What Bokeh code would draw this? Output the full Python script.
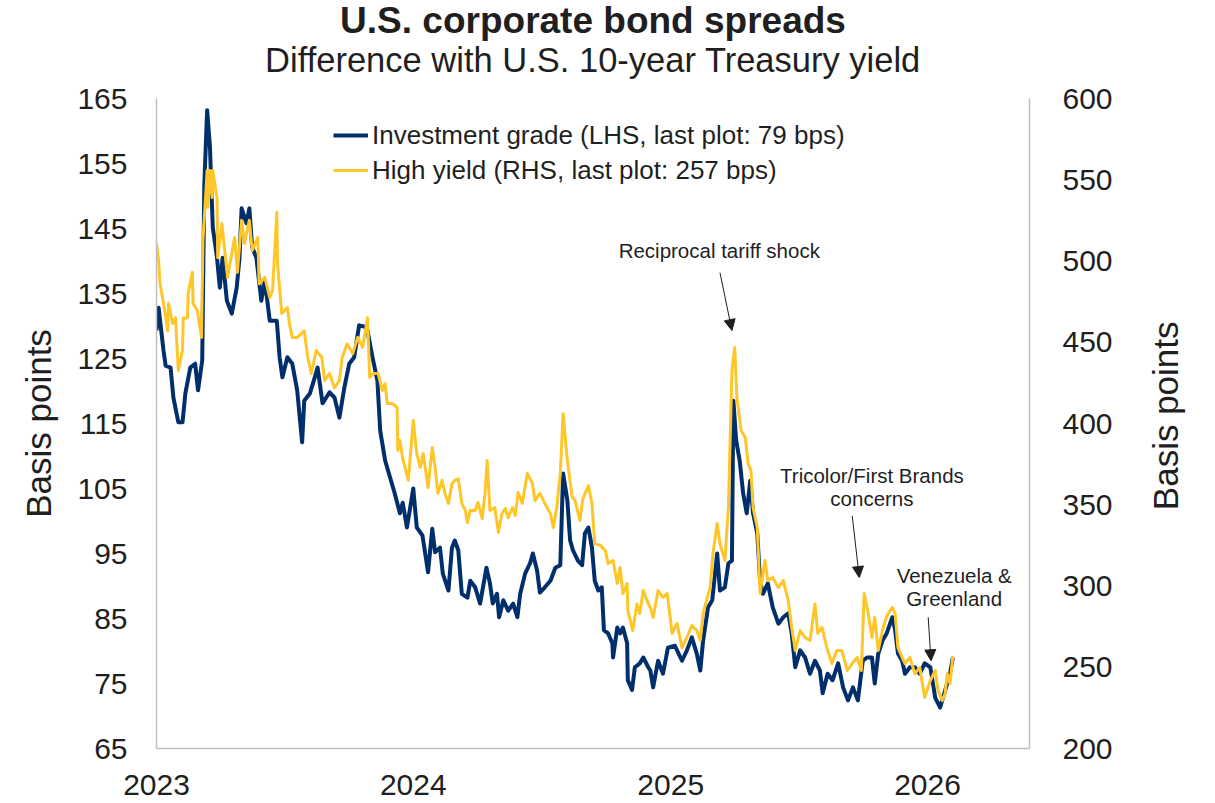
import math
import pandas as pd
from bokeh.plotting import figure
from bokeh.layouts import row
from bokeh.models import (Range1d, LinearAxis, FixedTicker, DatetimeTickFormatter,
                          Legend, LegendItem, Label, Arrow, NormalHead, Title)
from bokeh.embed import file_html
from bokeh.resources import INLINE

FONT = "Liberation Sans"
NAVY = "#002F6C"
GOLD = "#FFC629"
TXT = "#1F1F1F"
FRAME = "#BFBFBF"

# ---------------- data ----------------
ig_dates = [
    "2023-01-01", "2023-01-04", "2023-01-11", "2023-01-14", "2023-01-21", "2023-01-25", "2023-02-01",
    "2023-02-07", "2023-02-11", "2023-02-18", "2023-02-25", "2023-03-01", "2023-03-07", "2023-03-10",
    "2023-03-14", "2023-03-18", "2023-03-21", "2023-03-22", "2023-03-28", "2023-04-01", "2023-04-05",
    "2023-04-11", "2023-04-18", "2023-04-25", "2023-04-29", "2023-05-02", "2023-05-09", "2023-05-13",
    "2023-05-17", "2023-05-23", "2023-05-30", "2023-06-04", "2023-06-11", "2023-06-21", "2023-06-25",
    "2023-06-29", "2023-07-06", "2023-07-13", "2023-07-20", "2023-07-27", "2023-07-30", "2023-08-07",
    "2023-08-14", "2023-08-18", "2023-08-25", "2023-09-04", "2023-09-11", "2023-09-18", "2023-09-25",
    "2023-10-02", "2023-10-09", "2023-10-16", "2023-10-27", "2023-11-04", "2023-11-11", "2023-11-15",
    "2023-11-22", "2023-11-26", "2023-12-05", "2023-12-13", "2023-12-17", "2023-12-23", "2024-01-01",
    "2024-01-06", "2024-01-14", "2024-01-18", "2024-01-22", "2024-01-28", "2024-02-01", "2024-02-08",
    "2024-02-12", "2024-02-20", "2024-02-25", "2024-02-29", "2024-03-05", "2024-03-10", "2024-03-18",
    "2024-03-22", "2024-03-29", "2024-04-05", "2024-04-14", "2024-04-19", "2024-04-23", "2024-04-29",
    "2024-05-02", "2024-05-08", "2024-05-15", "2024-05-22", "2024-05-28", "2024-06-01", "2024-06-08",
    "2024-06-15", "2024-06-19", "2024-06-25", "2024-06-29", "2024-07-06", "2024-07-14", "2024-07-21",
    "2024-07-28", "2024-08-01", "2024-08-07", "2024-08-11", "2024-08-15", "2024-08-22", "2024-08-28",
    "2024-09-01", "2024-09-06", "2024-09-11", "2024-09-15", "2024-09-20", "2024-09-25", "2024-09-28",
    "2024-10-04", "2024-10-10", "2024-10-11", "2024-10-17", "2024-10-21", "2024-10-25", "2024-10-31",
    "2024-11-01", "2024-11-07", "2024-11-11", "2024-11-18", "2024-11-23", "2024-11-30", "2024-12-03",
    "2024-12-07", "2024-12-14", "2024-12-21", "2024-12-28", "2025-01-07", "2025-01-17", "2025-01-24",
    "2025-01-31", "2025-02-07", "2025-02-12", "2025-02-16", "2025-02-23", "2025-03-01", "2025-03-08",
    "2025-03-12", "2025-03-19", "2025-03-24", "2025-03-29", "2025-03-31", "2025-04-04", "2025-04-09",
    "2025-04-14", "2025-04-19", "2025-04-24", "2025-04-28", "2025-05-04", "2025-05-08", "2025-05-12",
    "2025-05-19", "2025-05-26", "2025-06-03", "2025-06-10", "2025-06-17", "2025-06-22", "2025-06-27",
    "2025-07-04", "2025-07-11", "2025-07-18", "2025-07-25", "2025-08-01", "2025-08-05", "2025-08-12",
    "2025-08-19", "2025-08-27", "2025-09-03", "2025-09-10", "2025-09-17", "2025-09-24", "2025-10-01",
    "2025-10-07", "2025-10-14", "2025-10-18", "2025-10-23", "2025-10-29", "2025-11-04", "2025-11-12",
    "2025-11-16", "2025-11-20", "2025-11-26", "2025-11-30", "2025-12-07", "2025-12-14", "2025-12-21",
    "2025-12-28", "2026-01-05", "2026-01-12", "2026-01-19", "2026-01-23", "2026-01-29", "2026-02-02",
    "2026-02-06",
]
ig_values = [
    129.3, 132.8, 126.2, 123.9, 123.6, 119.0, 115.2,
    115.2, 119.6, 123.6, 124.2, 120.1, 124.7, 151.9,
    163.2, 157.5, 148.2, 145.2, 140.5, 135.9, 140.5,
    133.9, 131.9, 135.9, 140.5, 148.1, 145.8, 148.1,
    142.1, 140.5, 133.9, 137.0, 130.8, 130.8, 125.2,
    122.1, 125.2, 124.2, 120.1, 112.1, 118.5, 119.6,
    122.1, 123.6, 118.1, 119.8, 119.0, 115.9, 120.5,
    124.2, 125.2, 130.1, 129.8, 125.2, 121.6, 113.9,
    109.3, 107.8, 104.5, 101.2, 102.8, 99.0, 105.0,
    99.0, 97.8, 95.0, 92.1, 98.8, 95.2, 95.9,
    91.9, 89.3, 95.9, 97.0, 95.5, 88.8, 88.2,
    90.8, 89.8, 87.3, 92.8, 90.4, 87.3, 88.8,
    85.2, 87.8, 86.2, 87.3, 85.2, 88.8, 91.9,
    93.5, 95.0, 92.4, 89.0, 89.8, 90.8, 92.8,
    93.2, 107.3, 103.2, 97.0, 95.5, 93.9, 93.2,
    98.1, 99.0, 95.9, 90.8, 89.3, 89.8, 83.2,
    82.7, 81.2, 79.0, 83.6, 82.7, 83.6, 81.2,
    75.5, 74.0, 77.5, 78.1, 79.0, 77.5, 77.0,
    74.4, 78.5, 76.5, 80.5, 80.8, 78.5, 80.1,
    82.1, 79.6, 77.0, 81.6, 86.7, 87.8, 95.0,
    89.3, 89.8, 93.5, 93.9, 118.5, 112.4, 109.3,
    104.2, 101.2, 106.2, 101.2, 98.1, 90.8, 88.8,
    90.4, 86.7, 84.2, 85.2, 85.8, 82.7, 77.5,
    80.1, 79.0, 76.5, 78.5, 77.0, 73.5, 76.5,
    75.5, 78.1, 74.4, 72.4, 74.4, 72.4, 78.5,
    79.0, 79.0, 75.0, 79.6, 81.6, 82.7, 85.2,
    83.2, 79.6, 78.5, 76.5, 77.5, 77.5, 76.5,
    78.1, 77.5, 72.8, 71.3, 72.8, 75.0, 76.5,
    79.0,
]

hy_dates = [
    "2023-01-01", "2023-01-04", "2023-01-06", "2023-01-11", "2023-01-17", "2023-01-18", "2023-01-24",
    "2023-01-28", "2023-02-01", "2023-02-07", "2023-02-08", "2023-02-14", "2023-02-15", "2023-02-21",
    "2023-02-22", "2023-02-28", "2023-03-06", "2023-03-08", "2023-03-14", "2023-03-15", "2023-03-18",
    "2023-03-21", "2023-03-22", "2023-03-28", "2023-03-29", "2023-04-04", "2023-04-08", "2023-04-12",
    "2023-04-18", "2023-04-22", "2023-04-26", "2023-05-02", "2023-05-06", "2023-05-13", "2023-05-17",
    "2023-05-25", "2023-05-27", "2023-06-04", "2023-06-11", "2023-06-15", "2023-06-21", "2023-06-22",
    "2023-06-28", "2023-07-06", "2023-07-09", "2023-07-13", "2023-07-20", "2023-07-30", "2023-08-04",
    "2023-08-09", "2023-08-16", "2023-08-24", "2023-08-28", "2023-09-04", "2023-09-11", "2023-09-18",
    "2023-09-22", "2023-09-29", "2023-10-07", "2023-10-14", "2023-10-21", "2023-10-28", "2023-10-31",
    "2023-11-05", "2023-11-12", "2023-11-18", "2023-11-22", "2023-11-25", "2023-12-02", "2023-12-09",
    "2023-12-10", "2023-12-13", "2023-12-17", "2023-12-25", "2024-01-01", "2024-01-06", "2024-01-11",
    "2024-01-15", "2024-01-18", "2024-01-22", "2024-01-28", "2024-02-01", "2024-02-05", "2024-02-11",
    "2024-02-15", "2024-02-20", "2024-02-25", "2024-02-29", "2024-03-05", "2024-03-10", "2024-03-15",
    "2024-03-18", "2024-03-22", "2024-03-29", "2024-04-02", "2024-04-08", "2024-04-12", "2024-04-15",
    "2024-04-19", "2024-04-26", "2024-05-01", "2024-05-06", "2024-05-11", "2024-05-15", "2024-05-21",
    "2024-05-25", "2024-05-29", "2024-06-04", "2024-06-11", "2024-06-18", "2024-06-22", "2024-06-29",
    "2024-07-06", "2024-07-14", "2024-07-18", "2024-07-23", "2024-07-28", "2024-08-01", "2024-08-07",
    "2024-08-14", "2024-08-18", "2024-08-25", "2024-08-29", "2024-09-06", "2024-09-11", "2024-09-15",
    "2024-09-23", "2024-09-30", "2024-10-04", "2024-10-11", "2024-10-17", "2024-10-21", "2024-10-25",
    "2024-10-31", "2024-11-01", "2024-11-08", "2024-11-14", "2024-11-18", "2024-11-23", "2024-11-30",
    "2024-12-03", "2024-12-07", "2024-12-14", "2024-12-21", "2024-12-27", "2025-01-03", "2025-01-10",
    "2025-01-17", "2025-01-24", "2025-01-31", "2025-02-07", "2025-02-12", "2025-02-16", "2025-02-22",
    "2025-02-26", "2025-03-02", "2025-03-08", "2025-03-12", "2025-03-19", "2025-03-24", "2025-03-29",
    "2025-04-02", "2025-04-05", "2025-04-11", "2025-04-17", "2025-04-21", "2025-04-25", "2025-04-28",
    "2025-05-04", "2025-05-08", "2025-05-15", "2025-05-19", "2025-05-26", "2025-06-03", "2025-06-10",
    "2025-06-17", "2025-06-22", "2025-06-27", "2025-07-04", "2025-07-11", "2025-07-18", "2025-07-25",
    "2025-07-29", "2025-08-04", "2025-08-11", "2025-08-18", "2025-08-25", "2025-09-01", "2025-09-09",
    "2025-09-16", "2025-09-23", "2025-09-29", "2025-10-03", "2025-10-08", "2025-10-14", "2025-10-18",
    "2025-10-23", "2025-10-29", "2025-11-02", "2025-11-06", "2025-11-12", "2025-11-16", "2025-11-20",
    "2025-11-26", "2025-11-30", "2025-12-07", "2025-12-14", "2025-12-21", "2025-12-28", "2026-01-05",
    "2026-01-12", "2026-01-16", "2026-01-22", "2026-01-26", "2026-01-29", "2026-02-02", "2026-02-06",
]
hy_values = [
    511, 500, 486, 474, 457, 474, 461.5,
    465, 432.6, 445, 465, 465, 480, 493,
    474, 469.5, 453, 512.6, 555.7, 533, 555.7,
    539, 555.7, 539, 502, 523, 506, 490,
    504.6, 514.5, 493, 525, 510.8, 525, 506.5,
    514.5, 486, 490, 477.5, 482, 530, 498.5,
    467.7, 471.4, 461.5, 453, 453, 457, 440.6,
    430.8, 445, 440.6, 426.5, 430.8, 422, 426.5,
    440.6, 449, 443, 453, 446.8, 465, 428.3,
    430.8, 430.8, 420.3, 424.6, 412.3, 412.3, 410,
    383.4, 389.5, 378.5, 365, 401.8, 381.5, 373,
    381.5, 373, 360.6, 385.2, 373, 357, 365,
    357, 350.8, 363, 365, 366, 350.8, 346.5,
    339, 346.5, 346.5, 351.4, 341.5, 357, 377.2,
    346.5, 348.3, 333, 344.6, 347.7, 342, 348.3,
    343.4, 357.5, 350.8, 369.2, 363.7, 352.6, 357,
    350.8, 344.6, 336, 348.3, 369.2, 406, 377.2,
    354.5, 352.6, 340.3, 353.8, 361.8, 350.8, 326,
    325, 321.8, 313.8, 315.7, 301.5, 311.4, 295.4,
    301.5, 285, 272.6, 289, 283, 297.2, 289,
    286.8, 280.6, 297.2, 293, 295.4, 270.8, 277,
    262, 268.3, 275.7, 272.6, 266.5, 283, 293,
    299, 320, 338.5, 326, 315.7, 348.3, 432.6,
    446.8, 416, 395.7, 391.4, 375.4, 371, 348.3,
    336, 295.4, 315.7, 303.4, 305.2, 299, 303.4,
    291, 274.5, 260.3, 272.6, 268.3, 266.5, 289,
    270.8, 274.5, 262, 252.3, 260.3, 260.3, 248,
    252.3, 256, 248, 295.4, 285, 268.3, 280.6,
    260.3, 272.6, 278.8, 283, 286.8, 283, 262,
    256, 252.3, 256, 246, 249.8, 231.4, 241.8,
    248, 235.7, 229.5, 233.8, 246, 240, 257,
]

year_ticks = ["2023-01-01", "2024-01-01", "2025-01-01", "2026-01-01"]
left_ticks = [65, 75, 85, 95, 105, 115, 125, 135, 145, 155, 165]
right_ticks = [200, 250, 300, 350, 400, 450, 500, 550, 600]

title_text = "U.S. corporate bond spreads"
subtitle_text = "Difference with U.S. 10-year Treasury yield"
axis_title = "Basis points"
ig_label = "Investment grade (LHS, last plot: 79 bps)"
hy_label = "High yield (RHS, last plot: 257 bps)"


def ms(s):
    return pd.Timestamp(s).value / 1e6


ig_x = pd.to_datetime(ig_dates)
hy_x = pd.to_datetime(hy_dates)

MAIN_W, SIDE_W, H = 1130, 85, 803

# ---------------- main figure ----------------
p = figure(width=MAIN_W, height=H, x_axis_type="datetime",
           output_backend="svg", toolbar_location=None,
           x_range=Range1d(ms("2023-01-01"), ms("2026-05-26")),
           y_range=Range1d(65, 165),
           min_border_left=156, min_border_right=101,
           min_border_top=98, min_border_bottom=55)
p.extra_y_ranges = {"hy": Range1d(200, 600)}
p.background_fill_color = "white"
p.border_fill_color = "white"
p.outline_line_color = None
p.xgrid.grid_line_color = None
p.ygrid.grid_line_color = None

right_axis = LinearAxis(y_range_name="hy")
p.add_layout(right_axis, "right")

p.xaxis.ticker = FixedTicker(ticks=[ms(t) for t in year_ticks])
p.xaxis.formatter = DatetimeTickFormatter(years="%Y", months="%Y", days="%Y",
                                          hours="%Y", minutes="%Y", seconds="%Y")
p.yaxis[0].ticker = FixedTicker(ticks=left_ticks)
right_axis.ticker = FixedTicker(ticks=right_ticks)

for ax in [p.xaxis[0], p.yaxis[0], right_axis]:
    ax.axis_line_color = FRAME
    ax.axis_line_width = 1.5
    ax.major_tick_line_color = None
    ax.minor_tick_line_color = None
    ax.major_tick_out = 0
    ax.major_tick_in = 0
    ax.major_label_text_font = FONT
    ax.major_label_text_font_size = "30px"
    ax.major_label_text_color = TXT

p.xaxis.major_label_standoff = 26
p.yaxis[0].major_label_standoff = 29
right_axis.major_label_standoff = 33

p.yaxis[0].axis_label = axis_title
p.yaxis[0].axis_label_text_font = FONT
p.yaxis[0].axis_label_text_font_size = "35px"
p.yaxis[0].axis_label_text_font_style = "normal"
p.yaxis[0].axis_label_text_color = TXT
p.yaxis[0].axis_label_standoff = 16

# ---------------- lines ----------------
r_ig = p.line(ig_x, ig_values, line_color=NAVY, line_width=4, line_join="round")
r_hy = p.line(hy_x, hy_values, line_color=GOLD, line_width=3, line_join="round",
              y_range_name="hy")

legend = Legend(items=[LegendItem(label=ig_label, renderers=[r_ig]),
                       LegendItem(label=hy_label, renderers=[r_hy])],
                location=(177, 562), orientation="vertical",
                label_text_font=FONT, label_text_font_size="26px",
                label_text_color=TXT, glyph_width=35, glyph_height=32,
                label_height=32, label_standoff=4, spacing=3, padding=0,
                margin=0, border_line_color=None, background_fill_alpha=0)
p.add_layout(legend)

# ---------------- annotations ----------------
ann_style = dict(text_font=FONT, text_font_size="20.5px", text_color=TXT,
                 text_align="center", text_baseline="middle")
for txt, d, v in [("Reciprocal tariff shock", "2025-03-11", 141.6),
                  ("Tricolor/First Brands", "2025-10-14", 107.0),
                  ("concerns", "2025-10-14", 103.5),
                  ("Venezuela &", "2026-02-08", 91.6),
                  ("Greenland", "2026-02-08", 88.1)]:
    p.add_layout(Label(x=ms(d), y=v, text=txt, **ann_style))

for (d0, v0, d1, v1) in [("2025-03-12", 138.2, "2025-03-29", 129.3),
                         ("2025-09-16", 100.8, "2025-09-26", 91.3),
                         ("2026-01-02", 85.2, "2026-01-06", 78.5)]:
    p.add_layout(Arrow(end=NormalHead(size=11, fill_color=TXT, line_color=TXT),
                       x_start=ms(d0), y_start=v0, x_end=ms(d1), y_end=v1,
                       line_color=TXT, line_width=1))

# ---------------- titles ----------------
p.add_layout(Title(text=" ", text_font_size="1px", standoff=15), "above")
p.add_layout(Title(text=subtitle_text, align="center",
                   text_font=FONT, text_font_size="34.5px", text_font_style="normal",
                   text_color=TXT, standoff=3), "above")
p.add_layout(Title(text=title_text, align="center",
                   text_font=FONT, text_font_size="37px", text_font_style="bold",
                   text_color=TXT, standoff=-6), "above")

# ---------------- right-hand axis title strip ----------------
side = figure(width=SIDE_W, height=H, output_backend="svg", toolbar_location=None,
              x_range=Range1d(0, SIDE_W), y_range=Range1d(0, H),
              x_axis_location=None, y_axis_location=None,
              min_border_left=0, min_border_right=0, min_border_top=0, min_border_bottom=0)
side.outline_line_color = None
side.xgrid.grid_line_color = None
side.ygrid.grid_line_color = None
side.background_fill_color = "white"
side.border_fill_color = "white"
side.add_layout(Label(x=35, y=411, text=axis_title, angle=math.pi / 2,
                      text_font=FONT, text_font_size="35px", text_color=TXT,
                      text_align="center", text_baseline="middle"))

layout = row(p, side, spacing=0)
open("out.html", "w").write(file_html(layout, INLINE))
